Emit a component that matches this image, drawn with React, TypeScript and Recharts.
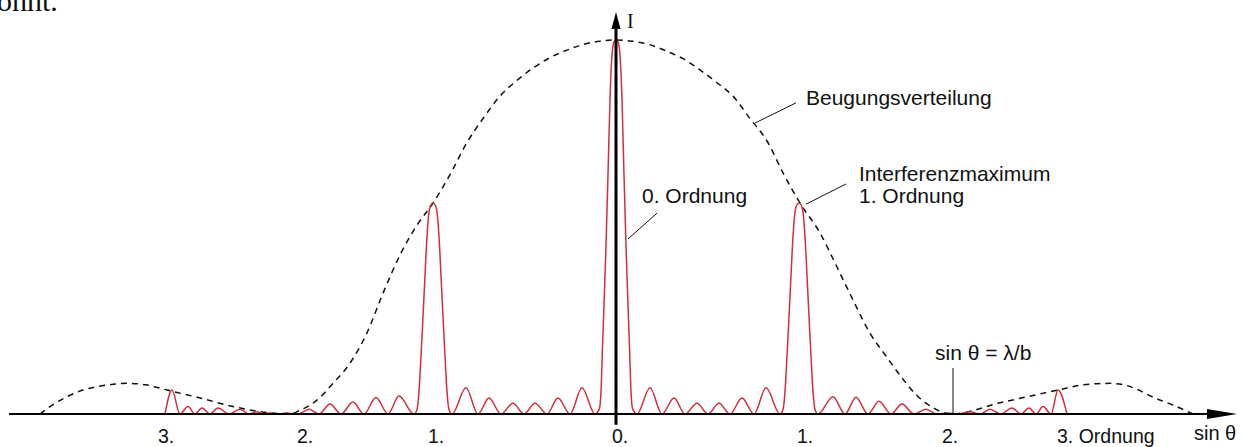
import { LineChart, Line, XAxis, YAxis, ReferenceLine, ReferenceDot } from "recharts";

// sin θ in arbitrary units (0 = centre, ±183 = 1st order), I in % of the central maximum
const PATTERN_X = [
  -451, -444, -436, -428, -421, -414, -406, -398, -387, -376, -367, -359, -352, -346, -338, -330, -318,
  -307, -297, -286, -275, -263, -252, -240, -228, -217, -202,
  -199, -197, -195, -193, -191, -189, -187, -185, -183, -181, -179, -177, -175, -173, -171, -169, -167, -164,
  -150, -138, -127, -115, -103, -92, -81, -69, -58, -46, -34, -21,
  -16.5, -15, -13.5, -12, -10, -8, -6, -4, -2, 0, 2, 4, 6, 8, 10, 12, 13.5, 15, 16.5, 21,
  34, 46, 58, 69, 81, 92, 103, 114, 126, 138, 150, 164,
  167, 169, 171, 173, 175, 177, 179, 181, 183, 185, 187, 189, 191, 193, 195, 197, 199, 202,
  217, 229, 240, 252, 263, 275, 286, 298, 310, 321, 332, 342, 354, 364, 374, 385, 396, 405, 413, 420,
  427, 435, 442, 451,
];
const PATTERN_I = [
  0, 6.4, 0, 2.0, 0, 1.6, 0, 1.6, 0, 1.3, 0, 0.6, 0, 0.3, 0, 0.3, 0,
  1.3, 0, 2.7, 0, 3.2, 0, 4.4, 0, 4.8, 0,
  1.2, 6, 15.5, 26, 37, 47.5, 54, 56, 56.4, 56, 54, 47.5, 37, 26, 15.5, 6, 1.2, 0,
  7, 0, 4.3, 0, 2.9, 0, 2.9, 0, 4.3, 0, 7, 0,
  1.5, 6, 18, 29, 45, 64, 84, 96, 99.5, 100, 99.5, 96, 84, 64, 45, 29, 18, 6, 1.5, 0,
  7, 0, 4.3, 0, 2.9, 0, 2.9, 0, 4.3, 0, 7, 0,
  1.2, 6, 15.5, 26, 37, 47.5, 54, 56, 56.4, 56, 54, 47.5, 37, 26, 15.5, 6, 1.2, 0,
  4.6, 0, 4.5, 0, 3.4, 0, 2.7, 0, 1.3, 0, 0.3, 0, 0.6, 0, 1.3, 0, 1.6, 0, 1.6, 0,
  2.0, 0, 6.4, 0,
];

const ENVELOPE_X = [
  -576, -566, -550, -533, -510, -489, -470, -449, -416, -383, -349, -326,
  -316, -299, -283, -266, -249, -233, -216, -199, -183, -166, -149, -133, -116, -100, -83, -66, -49, -33, -16,
  0, 16, 33, 51, 67, 84, 100, 117, 134, 151, 167, 184, 204, 221, 237, 254, 270, 285, 300, 314, 325, 336,
  384, 442, 467, 494, 508, 521, 537, 557, 577,
];
const ENVELOPE_I = [
  0, 2, 4.5, 6.4, 7.7, 8.2, 7.8, 6.4, 4.3, 2.0, 0.4, 0,
  1, 3.7, 8.2, 13.6, 21.7, 32.3, 42.5, 50.5, 56.4, 64, 72.6, 79, 85, 89, 92.5, 95.3, 97.3, 98.8, 99.7,
  100, 99.7, 98.8, 97, 95, 92, 88.8, 85, 79, 73, 64.5, 56.4, 48.4, 39.3, 30.5, 21.6, 15.5, 10, 5.2, 2.2, 0.6, 0,
  3.0, 6.4, 7.8, 8.2, 7.8, 6.6, 4.5, 2.4, 0,
];

const ORDER_LABELS = ["3.", "2.", "1.", "0.", "1.", "2.", "3. Ordnung"];
const ORDER_LABEL_X = [-458, -319, -188, -4, 181, 326, 441];

const CALLOUT_TEXT = ["Beugungsverteilung", "0. Ordnung", "Interferenzmaximum", "1. Ordnung", "sin θ = λ/b"];
const CALLOUT_X = [190, 26, 243, 243, 319];
const CALLOUT_Y = [82.6, 56.4, 62.4, 56.4, 14.4];

// leader lines: x1, y1, x2, y2
const LEADERS = [
  [139, 77.8, 180, 83.2],
  [12, 46.8, 41, 53.7],
  [190, 56.1, 230, 61.5],
  [337, 12.3, 337, 0],
];

const pattern = PATTERN_X.map((x, i) => ({ x, I: PATTERN_I[i] }));
const envelope = ENVELOPE_X.map((x, i) => ({ x, I: ENVELOPE_I[i] }));

const SANS = "'Liberation Sans', Arial, Helvetica, sans-serif";
const SERIF = "'Liberation Serif', 'Times New Roman', serif";
const RED = "#d02f3d";

function txt(x: number, y: number, s: string, key: string, font = SANS, size = 21) {
  return (
    <ReferenceDot
      key={key}
      x={x}
      y={y}
      r={0}
      ifOverflow="visible"
      shape={(p: any) => (
        <text x={p.cx} y={p.cy} fontFamily={font} fontSize={size} fill="#111">
          {s}
        </text>
      )}
    />
  );
}

export default function App() {
  return (
    <div style={{ position: "absolute", left: 0, top: 0, width: 1244, height: 447, background: "#fff" }}>
      <LineChart width={1244} height={447} margin={{ top: 0, right: 0, bottom: 0, left: 0 }}>
        <XAxis type="number" dataKey="x" domain={[-616, 628]} hide allowDataOverflow />
        <YAxis type="number" domain={[-8.82, 110.7]} hide allowDataOverflow />
        <Line
          data={envelope}
          dataKey="I"
          type="monotone"
          stroke="#111"
          strokeWidth={1.5}
          strokeDasharray="6 5"
          dot={false}
          activeDot={false}
          isAnimationActive={false}
        />
        <Line
          data={pattern}
          dataKey="I"
          type="monotone"
          stroke={RED}
          strokeWidth={1.5}
          dot={false}
          activeDot={false}
          isAnimationActive={false}
        />
        <ReferenceLine segment={[{ x: -607, y: 0 }, { x: 600, y: 0 }]} stroke="#000" strokeWidth={2.2} ifOverflow="visible" />
        <ReferenceLine segment={[{ x: 0, y: -2.9 }, { x: 0, y: 103.5 }]} stroke="#000" strokeWidth={3} ifOverflow="visible" />
        <ReferenceDot
          x={621}
          y={0}
          r={0}
          ifOverflow="visible"
          shape={(p: any) => (
            <path d={`M${p.cx},${p.cy} L${p.cx - 30},${p.cy - 5} L${p.cx - 30},${p.cy + 5} Z`} fill="#000" />
          )}
        />
        <ReferenceDot
          x={0}
          y={107.5}
          r={0}
          ifOverflow="visible"
          shape={(p: any) => (
            <path d={`M${p.cx},${p.cy} L${p.cx - 4.5},${p.cy + 17} L${p.cx + 4.5},${p.cy + 17} Z`} fill="#000" />
          )}
        />
        {LEADERS.map(([x1, y1, x2, y2], i) => (
          <ReferenceLine
            key={"l" + i}
            segment={[{ x: x1, y: y1 }, { x: x2, y: y2 }]}
            stroke="#111"
            strokeWidth={1}
            ifOverflow="visible"
          />
        ))}
        {CALLOUT_TEXT.map((s, i) => txt(CALLOUT_X[i], CALLOUT_Y[i], s, "c" + i))}
        {ORDER_LABELS.map((s, i) => txt(ORDER_LABEL_X[i], -7.75, s, "o" + i, SANS, 19.5))}
        {txt(578, -7.0, "sin θ", "sin", SANS, 20)}
        {txt(11, 103.2, "I", "I", SERIF, 20)}
        {txt(-619, 107.8, "ohnt.", "top", SERIF, 30)}
      </LineChart>
    </div>
  );
}
